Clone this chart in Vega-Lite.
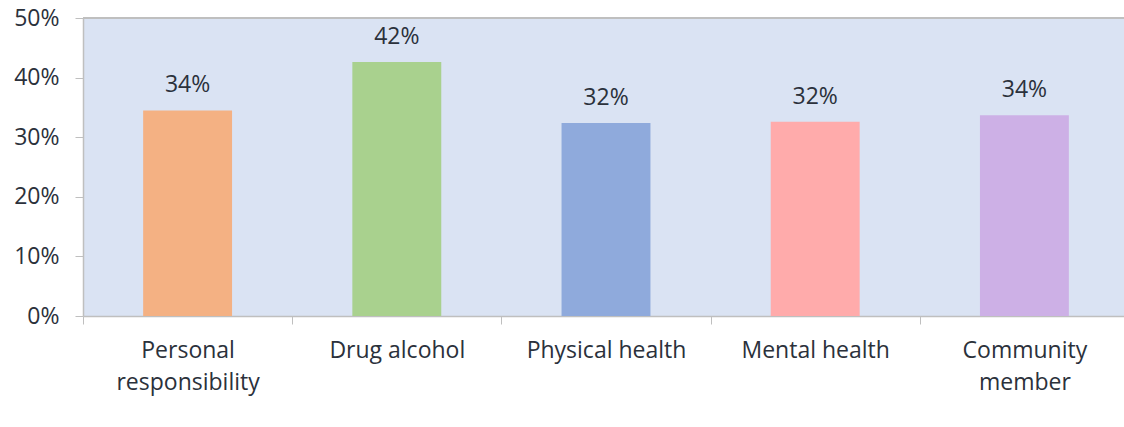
{
  "$schema": "https://vega.github.io/schema/vega-lite/v6.json",
  "width": 1041,
  "height": 298,
  "autosize": "none",
  "padding": {"left": 83, "top": 18, "right": 0, "bottom": 111},
  "background": "white",
  "config": {
    "view": {"stroke": null, "fill": "#dae3f3"},
    "font": "Open Sans"
  },
  "data": {
    "values": [
      {"cat": "Personal|responsibility", "value": 0.345, "label": "34%"},
      {"cat": "Drug alcohol", "value": 0.426, "label": "42%"},
      {"cat": "Physical health", "value": 0.324, "label": "32%"},
      {"cat": "Mental health", "value": 0.326, "label": "32%"},
      {"cat": "Community|member", "value": 0.337, "label": "34%"}
    ]
  },
  "layer": [
    {
      "mark": {"type": "bar", "width": {"band": 0.425}},
      "encoding": {
        "x": {
          "field": "cat",
          "type": "nominal",
          "sort": null,
          "scale": {"paddingInner": 0, "paddingOuter": 0, "range": [0, 1046]},
          "axis": {
            "title": null,
            "grid": false,
            "labelAngle": 0,
            "tickBand": "extent",
            "labelExpr": "split(datum.label, '|')",
            "labelFontSize": 23,
            "labelColor": "#2b313b",
            "labelLineHeight": 32,
            "labelPadding": 15,
            "tickSize": 8,
            "tickColor": "#bfbfbf",
            "domainColor": "#bfbfbf",
            "domainWidth": 1.5,
            "labelLimit": 300
          }
        },
        "y": {
          "field": "value",
          "type": "quantitative",
          "scale": {"domain": [0, 0.5]},
          "axis": {
            "title": null,
            "format": ".0%",
            "values": [0, 0.1, 0.2, 0.3, 0.4, 0.5],
            "grid": false,
            "labelFontSize": 23,
            "labelColor": "#2b313b",
            "labelPadding": 16,
            "tickSize": 8,
            "tickColor": "#bfbfbf",
            "domainColor": "#bfbfbf",
            "domainWidth": 1.5
          }
        },
        "color": {
          "field": "cat",
          "type": "nominal",
          "sort": null,
          "legend": null,
          "scale": {"range": ["#f4b183", "#a9d18e", "#8faadc", "#ffabab", "#cdb0e6"]}
        }
      }
    },
    {
      "mark": {"type": "text", "baseline": "alphabetic", "dy": -18, "fontSize": 23, "color": "#2b313b"},
      "encoding": {
        "x": {"field": "cat", "type": "nominal", "sort": null},
        "y": {"field": "value", "type": "quantitative"},
        "text": {"field": "label"}
      }
    },
    {
      "mark": {"type": "rule", "color": "#bfbfbf", "strokeWidth": 1.5},
      "encoding": {"y": {"datum": 0.5}}
    }
  ]
}
